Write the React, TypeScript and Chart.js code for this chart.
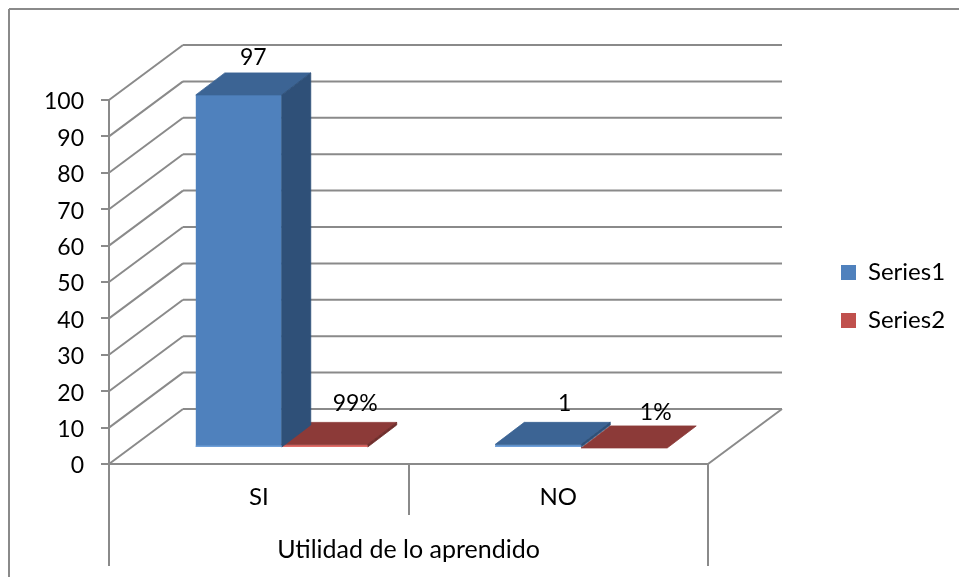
import React, { useEffect, useRef } from "react";
import { Chart, registerables } from "chart.js";

Chart.register(...registerables);

const categories = ["SI", "NO"];
const series1 = [97, 1];
const series2 = [0.99, 0.01];
const axisTitle = "Utilidad de lo aprendido";
const fontFamily = "Lato, Carlito, Calibri, sans-serif";
const numberFontSize = 23;
const wordFontSize = 24;

const lineColor = "#8a8a8a";
const frontColors = ["#4f81bd", "#c0504d"];
const topColors = ["#3c6494", "#8c3a38"];
const sideColors = ["#2f5078", "#6f2d2b"];
const edgeColors = ["#6f9fd8", "#df6f6b"];

// Projection offsets of the pseudo-3D box, in canvas pixels.
const wall = { dx: 74, dy: 55 };
const barShift = { dx: 23, dy: 16 };
const barDepth = { dx: 29, dy: 22 };
// Hand placement of each value label relative to its bar's top face: [series][category].
const labelNudge = [
  [[0, -15], [12, -19]],
  [[16, -19], [17, -13]],
];

function quad(ctx: CanvasRenderingContext2D, pts: number[][], fill: string) {
  ctx.beginPath();
  pts.forEach(([x, y], i) => (i ? ctx.lineTo(x, y) : ctx.moveTo(x, y)));
  ctx.closePath();
  ctx.fillStyle = fill;
  ctx.strokeStyle = fill;
  ctx.lineWidth = 0.8; // seals antialiasing seams between touching faces
  ctx.fill();
  ctx.stroke();
}

function segment(ctx: CanvasRenderingContext2D, x1: number, y1: number, x2: number, y2: number) {
  ctx.beginPath();
  ctx.moveTo(x1, y1);
  ctx.lineTo(x2, y2);
  ctx.stroke();
}

const formatLabel = (datasetIndex: number, value: number) =>
  datasetIndex === 1 ? `${Math.round(value * 100)}%` : `${value}`;

const scene3d = {
  id: "scene3d",
  beforeLayout(chart: any) {
    // Reserve the whole strip right of the plot for the legend.
    const legend = chart.legend;
    if (legend && !legend.__fixed) {
      const fit = legend.fit;
      legend.fit = function () {
        fit.call(this);
        this.width = 251;
      };
      legend.__fixed = true;
    }
  },
  afterLayout(chart: any) {
    const legend = chart.legend;
    legend.left = 817;
    legend.right = 959;
    legend.top = 236.5;
    legend.bottom = 560;
  },
  beforeDraw(chart: any) {
    const ctx = chart.ctx;
    ctx.save();
    ctx.strokeStyle = lineColor;
    ctx.lineWidth = 2;
    // Outer frame, open on the right and at the bottom.
    segment(ctx, 9, 577, 9, 9);
    segment(ctx, 9, 9, 959, 9);
    ctx.restore();
  },
  beforeDatasetsDraw(chart: any) {
    const { ctx, scales } = chart;
    const { x, y } = scales;
    ctx.save();
    ctx.strokeStyle = lineColor;
    ctx.lineWidth = 2;
    // Side and back walls, one line per value tick.
    y.ticks.forEach((t: any) => {
      const py = y.getPixelForValue(t.value);
      segment(ctx, x.left, py, x.left + wall.dx, py - wall.dy);
      segment(ctx, x.left + wall.dx, py - wall.dy, x.right + wall.dx, py - wall.dy);
    });
    // Floor edge on the right, and the outer dividers of the category axis.
    segment(ctx, x.right, y.bottom, x.right + wall.dx, y.bottom - wall.dy);
    segment(ctx, x.left, y.bottom, x.left, 566);
    segment(ctx, x.right, y.bottom, x.right, 566);
    ctx.restore();

    ctx.save();
    ctx.translate(barShift.dx, -barShift.dy);
  },
  afterDatasetsDraw(chart: any) {
    const ctx = chart.ctx;
    const { dx, dy } = barDepth;
    // Top and side faces; the later series goes first so the earlier one overlaps it.
    for (let d = chart.data.datasets.length - 1; d >= 0; d--) {
      chart.getDatasetMeta(d).data.forEach((bar: any) => {
        const l = bar.x - bar.width / 2;
        const r = bar.x + bar.width / 2;
        const t = bar.y;
        const b = bar.base;
        quad(ctx, [[l, t], [r, t], [r + dx, t - dy], [l + dx, t - dy]], topColors[d]);
        // A bar with next to no height shows only its top face.
        if (b - t < 1) return;
        quad(ctx, [[r, t], [r + dx, t - dy], [r + dx, b - dy], [r, b]], sideColors[d]);
        // Lighter lower edge of the front face.
        ctx.strokeStyle = edgeColors[d];
        ctx.lineWidth = 1.5;
        segment(ctx, l, b - 0.75, r, b - 0.75);
      });
    }
    ctx.restore();

    ctx.save();
    ctx.fillStyle = "#000";
    ctx.font = `${numberFontSize}px ${fontFamily}`;
    ctx.textAlign = "center";
    ctx.textBaseline = "middle";
    chart.data.datasets.forEach((ds: any, d: number) => {
      chart.getDatasetMeta(d).data.forEach((bar: any, i: number) => {
        const [nx, ny] = labelNudge[d][i];
        ctx.fillText(
          formatLabel(d, ds.data[i]),
          bar.x + barShift.dx + barDepth.dx / 2 + nx,
          bar.y - barShift.dy - barDepth.dy + ny
        );
      });
    });
    ctx.restore();
  },
};

export default function App() {
  const canvasRef = useRef<HTMLCanvasElement>(null);

  useEffect(() => {
    const numberFont = { family: fontFamily, size: numberFontSize };
    const wordFont = { family: fontFamily, size: wordFontSize };
    const chart = new Chart(canvasRef.current as HTMLCanvasElement, {
      type: "bar",
      data: {
        labels: categories,
        datasets: [
          { label: "Series1", data: series1, backgroundColor: frontColors[0], borderWidth: 0, clip: false },
          { label: "Series2", data: series2, backgroundColor: frontColors[1], borderWidth: 0, clip: false },
        ],
      },
      plugins: [scene3d],
      options: {
        responsive: false,
        animation: false,
        layout: { autoPadding: false, padding: { top: 100, left: 40, right: 0, bottom: 0 } },
        datasets: { bar: { categoryPercentage: 0.574, barPercentage: 1 } },
        plugins: {
          tooltip: { enabled: false },
          legend: {
            position: "right",
            align: "start",
            labels: { font: wordFont, color: "#000", boxWidth: 15, boxHeight: 15, padding: 24 },
          },
        },
        scales: {
          x: {
            grid: { drawOnChartArea: false, drawTicks: true, tickLength: 51, color: lineColor, lineWidth: 2 },
            border: { color: lineColor, width: 2 },
            ticks: { font: wordFont, color: "#000", padding: -32, maxRotation: 0 },
            title: {
              display: true,
              text: axisTitle,
              font: { family: fontFamily, size: 25 },
              color: "#000",
              padding: { top: 0, bottom: 12 },
            },
            afterFit(scale: any) {
              scale.height = 113;
            },
          },
          y: {
            min: 0,
            max: 100,
            grid: { drawOnChartArea: false, drawTicks: true, tickLength: 8, color: lineColor, lineWidth: 2 },
            border: { color: lineColor, width: 2 },
            ticks: { stepSize: 10, font: numberFont, color: "#000", padding: 17, labelOffset: 2 },
            afterFit(scale: any) {
              scale.width = 69;
            },
          },
        },
      },
    } as any);
    return () => chart.destroy();
  }, []);

  return (
    <div style={{ position: "fixed", left: 0, top: 0, width: 959, height: 577, background: "#fff" }}>
      <canvas ref={canvasRef} width={959} height={577} style={{ display: "block" }} />
    </div>
  );
}
